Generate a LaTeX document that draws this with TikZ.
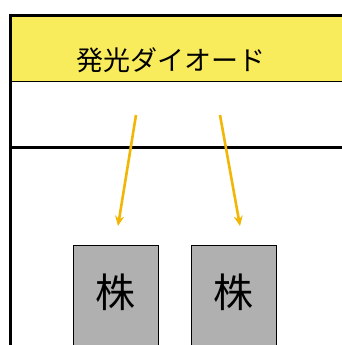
\documentclass[tikz,border=0pt]{standalone}
\usepackage{fontspec}
\newfontfamily\cjk{Noto Sans CJK JP}
\usetikzlibrary{arrows.meta}
\definecolor{ledyellow}{HTML}{F9EC5C}
\definecolor{arrowor}{HTML}{F2B705}
\definecolor{cellgray}{HTML}{B0B0B0}
\tikzset{
  frame/.style={draw=black, line width=3pt},
  light/.style={draw=arrowor, line width=2.6pt, -{Stealth[length=10pt,width=9pt]}},
  cell/.style={draw=black, line width=1.3pt, fill=cellgray, minimum width=85pt, minimum height=110pt, inner sep=0pt},
}
\begin{document}
\begin{tikzpicture}[x=1pt,y=-1pt]
\useasboundingbox (0,0) rectangle (342,345);
\clip (0,0) rectangle (342,345);
\fill[white] (0,0) rectangle (342,345);
% yellow band
\fill[ledyellow] (10,16) rectangle (350,81);
\node[font=\cjk\fontsize{27}{27}\selectfont] (led) at (171,60) {発光ダイオード};
% frame
\draw[frame] (10,360) -- (10,16) -- (360,16);
\draw[line width=1pt] (10,81) -- (360,81);
\draw[frame] (10,147) -- (360,147);
% cells
\node[cell, anchor=north west] (c1) at (73,245) {};
\node[cell, anchor=north west] (c2) at (191,245) {};
\node[font=\cjk\fontsize{40}{40}\selectfont] (t1) at (115.5,292) {株};
\node[font=\cjk\fontsize{40}{40}\selectfont] (t2) at (233.5,292) {株};
% arrows
\coordinate (s1) at (136,115);
\coordinate (e1) at (118,226);
\coordinate (s2) at (220,115);
\coordinate (e2) at (240,226);
\draw[light] (s1) -- (e1);
\draw[light] (s2) -- (e2);
\end{tikzpicture}
\end{document}
